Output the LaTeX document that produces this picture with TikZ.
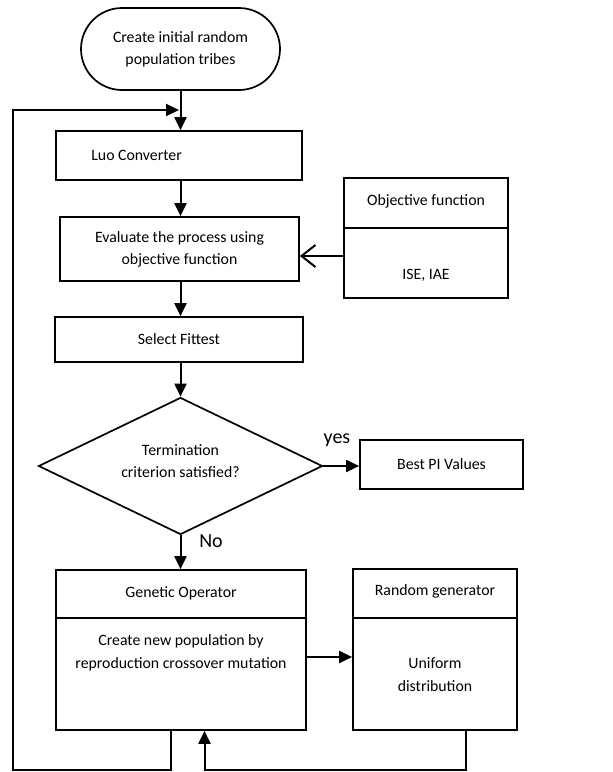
\documentclass[tikz,border=0pt]{standalone}
\usepackage{fontspec}
\setmainfont{Carlito}
\usetikzlibrary{shapes.geometric,arrows.meta}
\begin{document}
\begin{tikzpicture}[x=1pt,y=-1pt,
  font=\fontsize{15.8}{22}\selectfont,
  every node/.style={inner sep=0pt},
  box/.style={draw, line width=1.7pt, rectangle, align=center},
  divider/.style={line width=1.7pt},
  line/.style={line width=2pt, line join=miter},
  arr/.style={line, -{Triangle[length=13pt,width=12pt]}},
  openarr/.style={line, -{Straight Barb[length=14pt,width=22pt,line width=2pt]}},
  lbl/.style={font=\fontsize{20}{24}\selectfont}]
\useasboundingbox (0,0) rectangle (613,772);

\node[box, minimum width=199pt, minimum height=82pt, rounded corners=41pt] (start) at (180.5,49) {Create initial random\\population tribes};
\node[box, minimum width=246pt, minimum height=49pt] (luo) at (179,155.5) {};
\node[anchor=west] (luot) at ([xshift=36pt]luo.west) {Luo Converter};
\node[box, minimum width=239pt, minimum height=64pt] (eval) at (179.5,249) {Evaluate the process using\\objective function};
\node[box, minimum width=164pt, minimum height=120pt] (obj) at (426,238) {};
\draw[divider] (obj.west |- 0,228) -- (obj.east |- 0,228);
\node (objt) at (426,201) {Objective function};
\node (objb) at (426,275) {ISE, IAE};
\node[box, minimum width=248pt, minimum height=45pt] (sel) at (179,339.5) {Select Fittest};
\node[draw, diamond, line width=1.7pt, minimum width=284pt, minimum height=137pt, aspect=2.07] (dec) at (180.5,466) {};
\node[align=center] (dect) at (180.5,461) {Termination\\criterion satisfied?};
\node[box, minimum width=163pt, minimum height=49pt] (best) at (441.5,464.5) {Best PI Values};
\node[box, minimum width=250pt, minimum height=160pt] (go) at (181,650) {};
\draw[divider] (go.west |- 0,618) -- (go.east |- 0,618);
\node (got) at (181,593) {Genetic Operator};
\node[align=center, font=\fontsize{15.8}{23}\selectfont] (gob) at (181,652.5) {Create new population by\\reproduction crossover mutation};
\node[box, minimum width=164pt, minimum height=161pt] (rg) at (435,649.5) {};
\draw[divider] (rg.west |- 0,618) -- (rg.east |- 0,618);
\node (rgt) at (435,591) {Random generator};
\node[align=center, font=\fontsize{15.8}{23}\selectfont] (rgb) at (435,675) {Uniform\\distribution};

\node[lbl] (yes) at (337,440) {yes};
\node[lbl] (no) at (211,541) {No};

\coordinate (bl) at (13,770);
\coordinate (tl) at (13,110);
\coordinate (join) at (179,110);
\coordinate (gout) at ([xshift=-10.5pt]go.south);
\coordinate (gin) at ([xshift=23.5pt]go.south);
\coordinate (rout) at ([xshift=31pt]rg.south);

\draw[arr] (start.south) -- (start.south |- luo.north);
\draw[arr] (start.south |- luo.south) -- (start.south |- eval.north);
\draw[arr] (start.south |- eval.south) -- (start.south |- sel.north);
\draw[arr] (start.south |- sel.south) -- (dec.north);
\draw[openarr] ([yshift=-18pt]obj.west) -- ([yshift=-7pt]eval.east);
\draw[arr] (dec.east) -- (dec.east -| best.west);
\draw[arr] (dec.south) -- (dec.south |- go.north);
\draw[arr] ([yshift=-7pt]go.east) -- ([yshift=-7pt]go.east -| rg.west);
\draw[arr] (gout) |- (bl) -- (tl) -- (join);
\draw[arr] (rout) |- (gin |- bl) -- (gin);
\end{tikzpicture}
\end{document}
